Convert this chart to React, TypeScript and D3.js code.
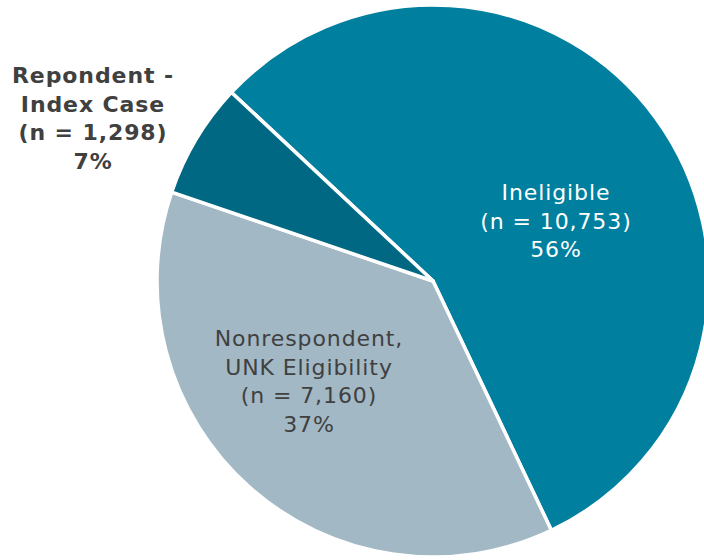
import React from "react";
import * as d3 from "d3";

const categories = ["Ineligible", "Nonrespondent, UNK Eligibility", "Repondent - Index Case"];
const counts = [10753, 7160, 1298];
const percents = ["56%", "37%", "7%"];
const labelLines = [
  ["Ineligible", "(n = 10,753)", "56%"],
  ["Nonrespondent,", "UNK Eligibility", "(n = 7,160)", "37%"],
  ["Repondent -", "Index Case", "(n = 1,298)", "7%"],
];
const colors = ["#007f9e", "#a2b8c5", "#006882"];

export default function App() {
  const W = 704, H = 560;
  const cx = 433, cy = 281, r = 276;
  const startAngle = (-46.9 * Math.PI) / 180;
  const pie = d3.pie<number>().sort(null).startAngle(startAngle).endAngle(startAngle + 2 * Math.PI);
  const arcs = pie(counts);
  const arc = d3.arc<d3.PieArcDatum<number>>().innerRadius(0).outerRadius(r);
  const labelPos = [
    { x: 556, y: 200, color: "#ffffff", bold: false },
    { x: 309, y: 346, color: "#404040", bold: true && false },
    { x: 93, y: 83, color: "#404040", bold: true },
  ];
  return (
    <svg width={W} height={H} style={{ position: "absolute", left: 0, top: 0 }}>
      <g transform={`translate(${cx},${cy})`}>
        {arcs.map((a, i) => (
          <path key={categories[i]} d={arc(a) || ""} fill={colors[i]} stroke="#ffffff" strokeWidth={3.5} strokeLinejoin="round" />
        ))}
      </g>
      {labelLines.map((lines, i) => (
        <text
          key={i}
          x={labelPos[i].x}
          y={labelPos[i].y}
          textAnchor="middle"
          fill={labelPos[i].color}
          fontFamily="'DejaVu Sans', Verdana, sans-serif"
          fontSize={22}
          fontWeight={labelPos[i].bold ? "bold" : "normal"}
          letterSpacing={0.9}
        >
          {lines.map((l, j) => (
            <tspan key={j} x={labelPos[i].x} dy={j === 0 ? 0 : 28.5}>
              {l}
            </tspan>
          ))}
        </text>
      ))}
    </svg>
  );
}
